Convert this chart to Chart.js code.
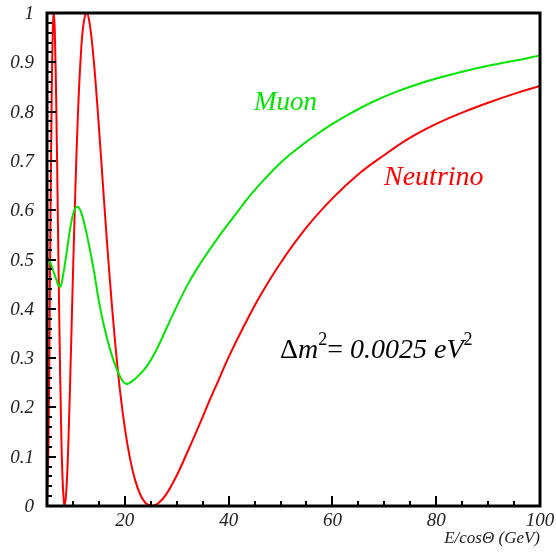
<!DOCTYPE html>
<html>
<head>
<meta charset="utf-8">
<script src="https://cdn.jsdelivr.net/npm/chart.js@4.4.0/dist/chart.umd.min.js"></script>
<style>
  html, body { margin: 0; padding: 0; background: #ffffff; }
  #wrap { width: 556px; height: 554px; }
</style>
</head>
<body>
<div id="wrap"><canvas id="c" width="556" height="554"></canvas></div>
<script>
// ---- Data ----
const neutrinoX = [5, 5.3, 5.6, 5.9, 6.1, 6.3, 6.5, 6.8, 7.1, 7.4, 7.7, 8.0, 8.4, 8.8, 9.2, 9.6, 10, 10.5, 11, 11.5, 12, 12.6, 13.2, 14, 15, 16, 17, 18, 19, 20, 21, 22, 23, 24, 25.2, 26.5, 28, 30, 32, 34, 36, 38, 40, 43, 46, 50, 55, 60, 65, 70, 75, 80, 85, 90, 95, 100];
const neutrinoP = [0.004, 0.138, 0.497, 0.827, 0.957, 1.0, 0.964, 0.804, 0.579, 0.355, 0.175, 0.055, 0.0, 0.044, 0.157, 0.308, 0.468, 0.653, 0.805, 0.911, 0.975, 1.0, 0.980, 0.905, 0.769, 0.618, 0.474, 0.347, 0.240, 0.158, 0.096, 0.052, 0.0225, 0.006, 0.0, 0.006, 0.024, 0.062, 0.108, 0.156, 0.206, 0.254, 0.302, 0.366, 0.425, 0.493, 0.565, 0.624, 0.673, 0.712, 0.747, 0.775, 0.798, 0.818, 0.836, 0.852];

const muonX = [5.0, 5.6, 6.5, 7.2, 7.6, 8.1, 8.8, 9.5, 10.2, 10.9, 11.6, 12.6, 13.9, 15.2, 16.5, 17.8, 19.1, 19.9, 20.6, 22, 24, 26, 28, 30, 32, 34, 36, 38, 41, 44, 47, 50.5, 54, 57, 60, 63.4, 67.8, 72, 76, 80.7, 85, 90, 95, 100];
const muonP = [0.505, 0.495, 0.468, 0.448, 0.445, 0.468, 0.515, 0.565, 0.598, 0.607, 0.595, 0.554, 0.485, 0.404, 0.343, 0.296, 0.262, 0.250, 0.248, 0.258, 0.280, 0.315, 0.360, 0.405, 0.447, 0.483, 0.515, 0.545, 0.587, 0.628, 0.664, 0.701, 0.731, 0.754, 0.775, 0.796, 0.820, 0.839, 0.854, 0.869, 0.881, 0.893, 0.903, 0.914];

const xMajorTicks = [20, 40, 60, 80, 100];
const xTickLabels = ['20', '40', '60', '80', '100'];
const yMajorTicks = [0, 0.1, 0.2, 0.3, 0.4, 0.5, 0.6, 0.7, 0.8, 0.9, 1];
const yTickLabels = ['0', '0.1', '0.2', '0.3', '0.4', '0.5', '0.6', '0.7', '0.8', '0.9', '1'];
const xMinorStep = 5;
const yMinorStep = 0.02;

const seriesNames = ['Muon', 'Neutrino'];
const xAxisTitle = 'E/cos\u0398 (GeV)';

const GREEN = '#00e600';
const RED = '#ff0000';

function pts(xs, ys) { return xs.map((x, i) => ({ x: x, y: ys[i] })); }

const SERIF = '"Liberation Serif", "DejaVu Serif", serif';

const decor = {
  id: 'decor',
  afterDraw(chart) {
    const ctx = chart.ctx;
    const a = chart.chartArea;
    const xs = chart.scales.x, ys = chart.scales.y;
    ctx.save();
    // frame
    ctx.strokeStyle = '#000';
    ctx.lineWidth = 3;
    ctx.strokeRect(a.left, a.top, a.right - a.left, a.bottom - a.top);

    // ticks
    ctx.lineWidth = 2;
    ctx.beginPath();
    for (let v = xs.min; v <= xs.max + 1e-9; v += xMinorStep) {
      const px = Math.round(xs.getPixelForValue(v));
      const major = xMajorTicks.some(t => Math.abs(t - v) < 1e-6);
      ctx.moveTo(px, a.bottom);
      ctx.lineTo(px, a.bottom - (major ? 10 : 5));
    }
    for (let i = 0; i <= Math.round((ys.max - ys.min) / yMinorStep); i++) {
      const v = ys.min + i * yMinorStep;
      const py = Math.round(ys.getPixelForValue(v));
      const major = yMajorTicks.some(t => Math.abs(t - v) < 1e-6);
      ctx.moveTo(a.left, py);
      ctx.lineTo(a.left + (major ? 9 : 5), py);
    }
    ctx.stroke();

    // tick labels
    ctx.fillStyle = '#222';
    ctx.font = 'italic 19px ' + SERIF;
    ctx.textAlign = 'right';
    ctx.textBaseline = 'middle';
    yMajorTicks.forEach((v, i) => {
      ctx.fillText(yTickLabels[i], 34, ys.getPixelForValue(v) + 1);
    });
    ctx.textAlign = 'center';
    ctx.textBaseline = 'alphabetic';
    xMajorTicks.forEach((v, i) => {
      ctx.fillText(xTickLabels[i], xs.getPixelForValue(v), 526);
    });

    // axis title
    ctx.textAlign = 'right';
    ctx.font = 'italic 17px ' + SERIF;
    ctx.fillText(xAxisTitle, 540, 543);

    // series labels
    ctx.textAlign = 'left';
    ctx.font = 'italic 27px ' + SERIF;
    ctx.fillStyle = GREEN;
    ctx.fillText(seriesNames[0], 254, 110);
    ctx.fillStyle = RED;
    ctx.font = 'italic 28px ' + SERIF;
    ctx.fillText(seriesNames[1], 384, 185);

    // delta m^2 annotation
    ctx.fillStyle = '#000';
    let x = 280;
    const base = 358;
    const parts = [
      { t: '\u0394', f: '28px ' + SERIF, dy: 0 },
      { t: 'm', f: 'italic 28px ' + SERIF, dy: 0 },
      { t: '2', f: '18px ' + SERIF, dy: -13 },
      { t: '= ', f: '28px ' + SERIF, dy: 0 },
      { t: '0.0025 eV', f: 'italic 28px ' + SERIF, dy: 0 },
      { t: '2', f: '18px ' + SERIF, dy: -13 }
    ];
    parts.forEach(p => {
      ctx.font = p.f;
      ctx.fillText(p.t, x, base + p.dy);
      x += ctx.measureText(p.t).width;
    });
    ctx.restore();
  }
};

new Chart(document.getElementById('c'), {
  type: 'line',
  data: {
    datasets: [
      {
        label: seriesNames[0],
        data: pts(muonX, muonP),
        borderColor: GREEN,
        borderWidth: 2,
        pointRadius: 0,
        tension: 0.4,
        fill: false
      },
      {
        label: seriesNames[1],
        data: pts(neutrinoX, neutrinoP),
        borderColor: RED,
        borderWidth: 2,
        pointRadius: 0,
        tension: 0.4,
        fill: false
      }
    ]
  },
  options: {
    responsive: false,
    animation: false,
    layout: { padding: { left: 47, top: 13, right: 16, bottom: 48 } },
    plugins: { legend: { display: false }, tooltip: { enabled: false } },
    scales: {
      x: { type: 'linear', min: 5, max: 100, display: false },
      y: { type: 'linear', min: 0, max: 1, display: false }
    }
  },
  plugins: [decor]
});
</script>
</body>
</html>
